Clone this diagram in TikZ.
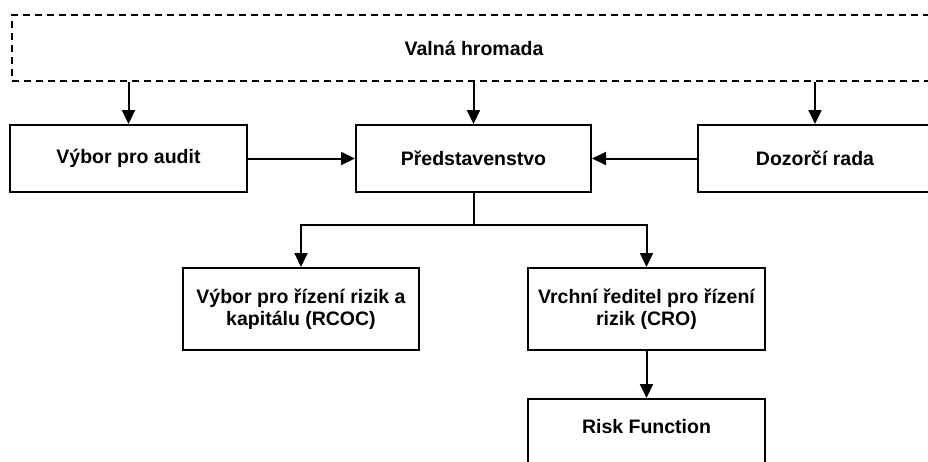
\documentclass[tikz,border=0pt]{standalone}
\usepackage{fontspec}
\setmainfont{Liberation Sans}
\usetikzlibrary{arrows.meta}
\begin{document}
\begin{tikzpicture}[x=1pt,y=-1pt,
  box/.style={draw, line width=2pt, rectangle, inner sep=0pt, align=center,
    font=\fontsize{19.5}{22}\selectfont\bfseries},
  dbox/.style={box, dash pattern=on 7pt off 5pt, line width=1.8pt},
  arr/.style={line width=2pt, -{Triangle[width=13pt,length=14pt]}},
  ln/.style={line width=2pt}]
\useasboundingbox (0,0) rectangle (928,461);
\clip (0,0) rectangle (928,461);
\fill[white] (0,0) rectangle (928,461);
\node[dbox, minimum width=924pt, minimum height=66pt] (vh) at (474,48) {Valná hromada};
\node[box, minimum width=237pt, minimum height=67pt] (audit) at (128.5,158.5) {Výbor pro audit};
\node[box, minimum width=235pt, minimum height=67pt] (pred) at (473.5,158.5) {Představenstvo};
\node[box, minimum width=234pt, minimum height=67pt] (doz) at (815,158.5) {Dozorčí rada};
\node[box, minimum width=236pt, minimum height=82pt] (rcoc) at (301,309) {Výbor pro řízení rizik a\\kapitálu (RCOC)};
\node[box, minimum width=237pt, minimum height=82pt] (vrch) at (646.5,309) {Vrchní ředitel pro řízení\\rizik (CRO)};
\node[box, minimum width=237pt, minimum height=71pt, text height=14pt, text depth=16pt] (risk) at (646.5,434.5) {Risk Function};
\coordinate (split) at (473.5,225);
\draw[arr] (audit.north |- vh.south) -- (audit.north);
\draw[arr] (pred.north |- vh.south) -- (pred.north);
\draw[arr] (doz.north |- vh.south) -- (doz.north);
\draw[arr] (audit.east) -- (pred.west);
\draw[arr] (doz.west) -- (pred.east);
\draw[ln] (pred.south) -- (split);
\draw[arr] (split) -| (rcoc.north);
\draw[arr] (split) -| (vrch.north);
\draw[arr] (vrch.south) -- (risk.north);
\end{tikzpicture}
\end{document}
